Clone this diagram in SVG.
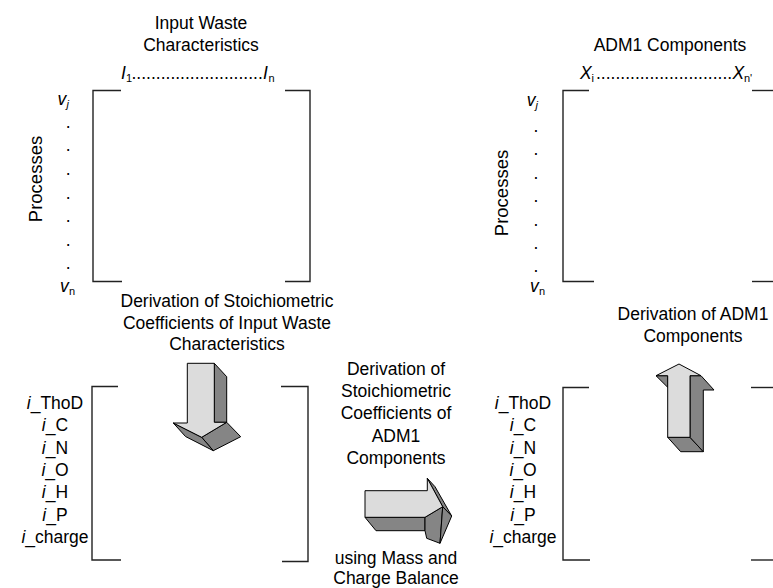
<svg xmlns="http://www.w3.org/2000/svg" width="773" height="588" viewBox="0 0 773 588">
<style>
text{font-family:"Liberation Sans",Arial,sans-serif;font-size:17.5px;fill:#000}
.m{text-anchor:middle}
.it{font-style:italic}
.sub{font-size:11px}
.br{fill:none;stroke:#222;stroke-width:1.4}
.lt{fill:#dcdcdc;stroke:#000;stroke-width:1;stroke-linejoin:round}
.dk{fill:#858585;stroke:#000;stroke-width:1;stroke-linejoin:round}
</style>
<rect width="773" height="588" fill="#fff"/>

<g id="matrix-waste">
<text class="m" x="201" y="29">Input Waste</text>
<text class="m" x="201" y="51">Characteristics</text>
<text class="it" x="121" y="79">I</text><text class="sub" x="126" y="82">1</text>
<text x="131.5" y="79">...........................</text>
<text class="it" x="263" y="79">I</text><text class="sub" x="268.5" y="82">n</text>
<text class="m" transform="translate(41.5,179) rotate(-90)" style="font-size:18.5px">Processes</text>
<text class="it" x="57.5" y="105">v</text><text class="sub it" x="66.5" y="108">j</text>
<text class="m" x="68.3" y="127.7">.</text>
<text class="m" x="68.3" y="151.3">.</text>
<text class="m" x="68.3" y="174.9">.</text>
<text class="m" x="68.3" y="198.5">.</text>
<text class="m" x="68.3" y="222.1">.</text>
<text class="m" x="68.3" y="245.7">.</text>
<text class="m" x="68.3" y="269.3">.</text>
<text class="it" x="60" y="292">v</text><text class="sub" x="69" y="295">n</text>
<path class="br" d="M121,90.5 H93 V281.5 H122"/>
<path class="br" d="M285,90.5 H310 V281.5 H285"/>
</g>

<g id="matrix-adm1">
<text class="m" x="670" y="51">ADM1 Components</text>
<text class="it" x="580" y="79">X</text><text class="sub" x="591.5" y="82">i</text>
<text x="596" y="79">............................</text>
<text class="it" x="732.5" y="79">X</text><text class="sub" x="744" y="82">n'</text>
<text class="m" transform="translate(508.3,193) rotate(-90)" style="font-size:18.5px">Processes</text>
<text class="it" x="526.7" y="106">v</text><text class="sub it" x="535.5" y="109">j</text>
<text class="m" x="536" y="132">.</text>
<text class="m" x="536" y="155.4">.</text>
<text class="m" x="536" y="178.8">.</text>
<text class="m" x="536" y="202.2">.</text>
<text class="m" x="536" y="225.6">.</text>
<text class="m" x="536" y="249">.</text>
<text class="m" x="536" y="272.4">.</text>
<text class="it" x="530" y="292">v</text><text class="sub" x="539" y="295">n</text>
<path class="br" d="M589,90.5 H563 V281.5 H594"/>
<path class="br" d="M752,90.5 H773"/>
<path class="br" d="M752,281.5 H773"/>
</g>

<g id="matrix-coeff-waste">
<text class="m" x="227" y="307">Derivation of Stoichiometric</text>
<text class="m" x="227" y="328.7">Coefficients of Input Waste</text>
<text class="m" x="227" y="350.4">Characteristics</text>
<text class="m" x="55" y="409"><tspan class="it">i</tspan>_ThoD</text>
<text class="m" x="55" y="431.3"><tspan class="it">i</tspan>_C</text>
<text class="m" x="55" y="453.6"><tspan class="it">i</tspan>_N</text>
<text class="m" x="55" y="475.9"><tspan class="it">i</tspan>_O</text>
<text class="m" x="55" y="498.2"><tspan class="it">i</tspan>_H</text>
<text class="m" x="55" y="520.5"><tspan class="it">i</tspan>_P</text>
<text class="m" x="55" y="542.8"><tspan class="it">i</tspan>_charge</text>
<path class="br" d="M118,386.5 H92 V560 H121"/>
<path class="br" d="M281,386.5 H308 V561.5 H282"/>
</g>

<g id="matrix-coeff-adm1">
<text class="m" x="693" y="320">Derivation of ADM1</text>
<text class="m" x="693" y="341.7">Components</text>
<text class="m" x="523" y="409"><tspan class="it">i</tspan>_ThoD</text>
<text class="m" x="523" y="431.3"><tspan class="it">i</tspan>_C</text>
<text class="m" x="523" y="453.6"><tspan class="it">i</tspan>_N</text>
<text class="m" x="523" y="475.9"><tspan class="it">i</tspan>_O</text>
<text class="m" x="523" y="498.2"><tspan class="it">i</tspan>_H</text>
<text class="m" x="523" y="520.5"><tspan class="it">i</tspan>_P</text>
<text class="m" x="523" y="542.8"><tspan class="it">i</tspan>_charge</text>
<path class="br" d="M589,387.5 H563 V560 H590"/>
<path class="br" d="M751,387.5 H773"/>
<path class="br" d="M751,560 H773"/>
</g>

<g id="label-middle">
<text class="m" x="396" y="375">Derivation of</text>
<text class="m" x="396" y="397.2">Stoichiometric</text>
<text class="m" x="396" y="419.4">Coefficients of</text>
<text class="m" x="396" y="441.6">ADM1</text>
<text class="m" x="396" y="463.8">Components</text>
<text class="m" x="396" y="563.5">using Mass and</text>
<text class="m" x="396" y="583.5">Charge Balance</text>
</g>

<g id="connectors">
<g id="arrow-down">
<polygon class="dk" points="214.3,363.3 226.7,376.7 226.7,422.3 214.3,422.3"/>
<polygon class="dk" points="226.7,422.3 240.7,436.7 213.3,450.7 201.7,437.3"/>
<polygon class="dk" points="173.3,423 185.5,436.5 213.3,450.7 201.7,437.3"/>
<polygon class="lt" points="187.3,363.3 214.3,363.3 214.3,422.3 226.7,422.3 201.7,437.3 173.3,423 187.3,423"/>
</g>
<g id="arrow-right">
<polygon class="dk" points="365,517.3 425,517.3 425,530.7 376,530.7"/>
<polygon class="dk" points="427.3,478.3 435,486.7 451.7,516 442.7,506.7"/>
<polygon class="dk" points="425,517.3 442.7,506.7 440,543.3 426.7,538.3 425,530.7"/>
<polygon class="dk" points="442.7,506.7 451.7,516 440,543.3"/>
<polygon class="lt" points="365,490.7 427.3,490.7 427.3,478.3 442.7,506.7 425,517.3 365,517.3"/>
</g>
<g id="arrow-up">
<polygon class="dk" points="667.7,437.3 690,437.3 703.3,451.7 680.7,451.7"/>
<polygon class="dk" points="690,375.7 701,375.7 714,390 703.3,390 703.3,451.7 690,437.3"/>
<polygon class="dk" points="656,375.7 667.7,375.7 667.7,387.3"/>
<polygon class="lt" points="667.7,437.3 690,437.3 690,375.7 701,375.7 679,364 656,375.7 667.7,375.7"/>
</g>
</g>
</svg>
